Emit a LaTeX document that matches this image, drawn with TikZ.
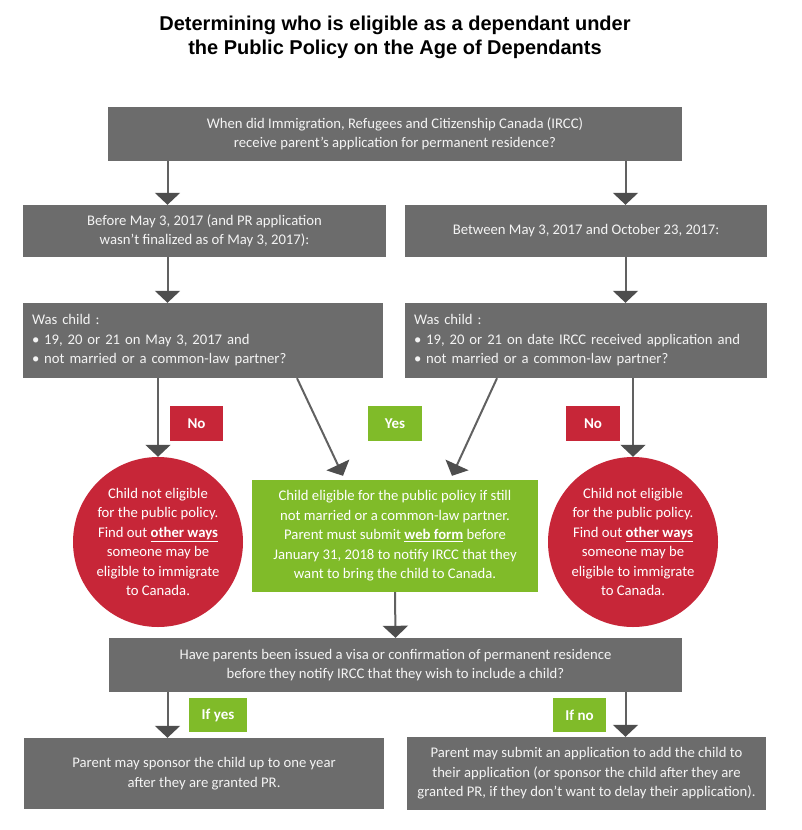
\documentclass[tikz,border=0pt]{standalone}
\usepackage{fontspec}
\setmainfont{Carlito}
\newfontfamily\titlefont{Liberation Sans}
\usetikzlibrary{arrows.meta,positioning}
\definecolor{boxgrey}{RGB}{108,108,108}
\definecolor{arrgrey}{RGB}{78,78,78}
\definecolor{ircred}{RGB}{199,38,56}
\definecolor{ircgreen}{RGB}{128,187,41}
\definecolor{boxtext}{RGB}{244,244,244}

\begin{document}
\begin{tikzpicture}[x=1pt,y=-1pt,font=\fontsize{14.7}{19.5}\selectfont,
gbox/.style={fill=boxgrey,text=boxtext,align=center,inner sep=0pt},
lbox/.style={fill=boxgrey,text=boxtext,align=left,inner xsep=9pt,inner ysep=0pt},
redlab/.style={fill=ircred,text=white,font=\fontsize{15}{16}\selectfont\bfseries,inner sep=0pt,minimum height=35},
greenlab/.style={fill=ircgreen,text=white,font=\fontsize{15}{16}\selectfont\bfseries,inner sep=0pt,minimum height=34},
redcirc/.style={circle,fill=ircred,text=white,align=center,inner sep=0pt,minimum size=170},
greenbox/.style={fill=ircgreen,text=white,align=center,inner sep=0pt},
arr/.style={draw=boxgrey!90!black,line width=2pt,-{Triangle[width=25pt,length=12pt,color=arrgrey]}}]

\useasboundingbox[fill=white](0,0)rectangle(801,830);

\node[font=\titlefont\bfseries\fontsize{20}{24}\selectfont,align=center] (title) at (395,37)
  {Determining who is eligible as a dependant under\\the Public Policy on the Age of Dependants};

% questions and branches
\node[gbox,minimum width=574,minimum height=54] (q1) at (395,134)
  {When did Immigration, Refugees and Citizenship Canada (IRCC)\\receive parent’s application for permanent residence?};
\node[gbox,minimum width=363,minimum height=52] (b1) at (204.5,231)
  {Before May 3, 2017 (and PR application\\wasn’t finalized as of May 3, 2017):};
\node[gbox,minimum width=362,minimum height=52] (b2) at (586,231)
  {Between May 3, 2017 and October 23, 2017:};
\node[lbox,text width=342,minimum height=75] (c1) at (203,340.5)
  {Was child :\\• 19, 20 or 21 on May 3, 2017 and\\• not married or a common-law partner?};
\node[lbox,text width=344,minimum height=75] (c2) at (586,340.5)
  {Was child :\\• 19, 20 or 21 on date IRCC received application and\\• not married or a common-law partner?};

\node[redlab,minimum width=53] (noL) at (196.5,423.5) {No};
\node[greenlab,minimum width=54,minimum height=35] (yes) at (395,423.5) {Yes};
\node[redlab,minimum width=54] (noR) at (593,423.5) {No};

\node[redcirc] (redL) at (158,542)
  {Child not eligible\\for the public policy.\\Find out \underline{\textbf{other ways}}\\someone may be\\eligible to immigrate\\to Canada.};
\node[redcirc] (redR) at (633,542)
  {Child not eligible\\for the public policy.\\Find out \underline{\textbf{other ways}}\\someone may be\\eligible to immigrate\\to Canada.};
\node[greenbox,minimum width=286,minimum height=112] (elig) at (395,536)
  {Child eligible for the public policy if still\\not married or a common-law partner.\\Parent must submit \underline{\textbf{web form}} before\\January 31, 2018 to notify IRCC that they\\want to bring the child to Canada.};

\node[gbox,minimum width=573,minimum height=54] (q2) at (395.5,665)
  {Have parents been issued a visa or confirmation of permanent residence\\before they notify IRCC that they wish to include a child?};
\node[greenlab,minimum width=58] (ifyes) at (218,715) {If yes};
\node[greenlab,minimum width=53] (ifno) at (579.5,715) {If no};
\node[gbox,minimum width=360,minimum height=71] (d1) at (204,773.5)
  {Parent may sponsor the child up to one year\\after they are granted PR.};
\node[gbox,minimum width=359,minimum height=73] (d2) at (586.5,773.5)
  {Parent may submit an application to add the child to\\their application (or sponsor the child after they are\\granted PR, if they don’t want to delay their application).};

% connectors
\coordinate (lx) at (167.5,0);
\coordinate (rx) at (625.5,0);
\draw[arr] (q1.south -| lx) -- (b1.north -| lx);
\draw[arr] (q1.south -| rx) -- (b2.north -| rx);
\draw[arr] (b1.south -| lx) -- (c1.north -| lx);
\draw[arr] (b2.south -| rx) -- (c2.north -| rx);
\draw[arr] (c1.south -| redL) -- (redL.north);
\draw[arr] (c2.south -| redR) -- (redR.north);
\draw[arr] ([xshift=94pt]c1.south) -- ([xshift=-52pt,yshift=4pt]elig.north);
\draw[arr] ([xshift=-89pt]c2.south) -- ([xshift=57pt,yshift=4pt]elig.north);
\draw[arr] (elig.south) -- (q2.north);
\draw[arr] (q2.south -| lx) -- (d1.north -| lx);
\draw[arr] (q2.south -| rx) -- (d2.north -| rx);
\end{tikzpicture}
\end{document}
